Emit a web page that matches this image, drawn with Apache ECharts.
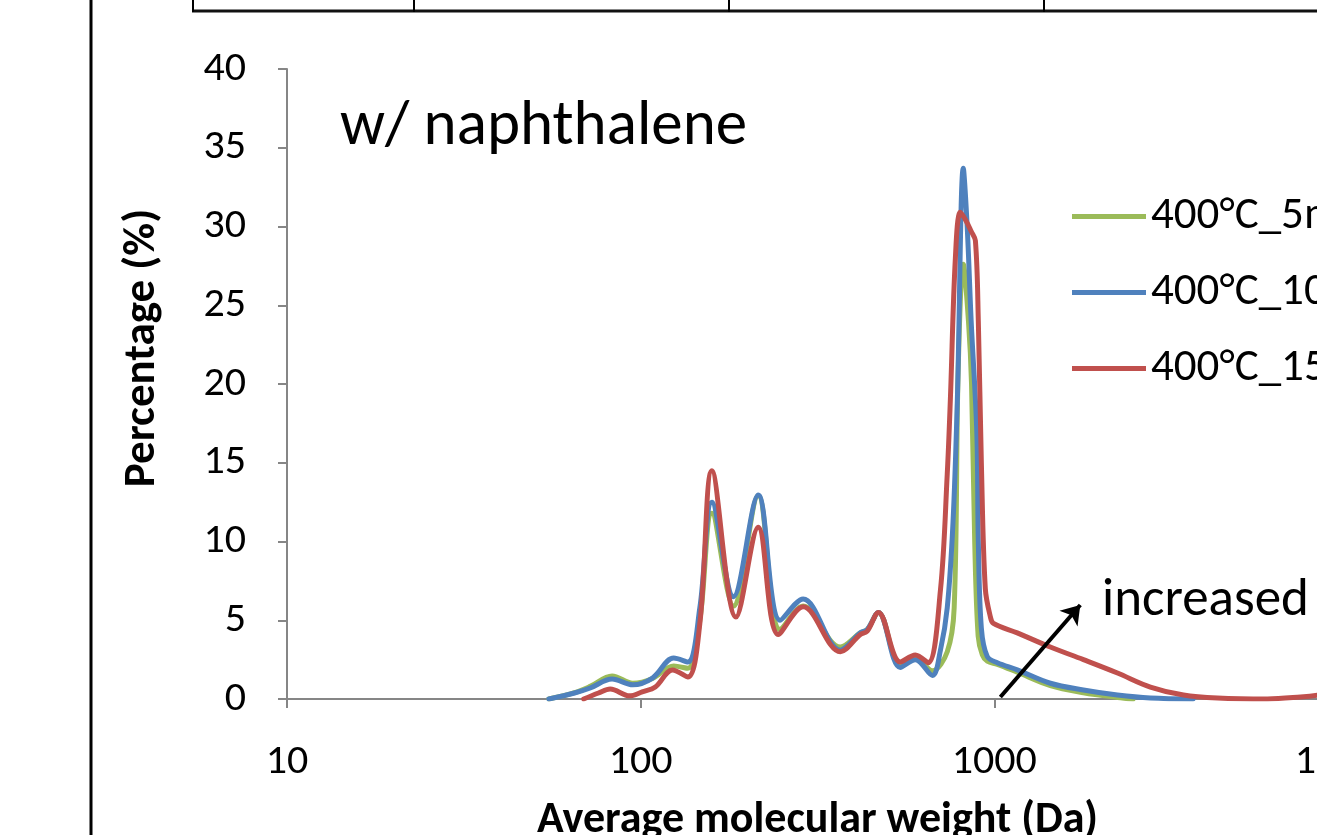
<!DOCTYPE html>
<html>
<head>
<meta charset="utf-8">
<script src="https://cdn.jsdelivr.net/npm/echarts@6/dist/echarts.min.js"></script>
<style>
html,body{margin:0;padding:0;background:#fff;}
#chart{width:1317px;height:835px;}
</style>
</head>
<body>
<div id="chart"></div>
<script>
// ---- data ----
const seriesNames = ['400°C_5min', '400°C_10min', '400°C_15min'];
const xTickLabels = ['10', '100', '1000', '10000'];

const mw5  = [55, 65, 72, 83, 95, 108, 124, 136, 147, 159, 183, 215, 248, 288, 367, 418, 437, 470, 542, 598, 668, 736, 770, 790, 817, 845, 862, 880, 900, 925, 955, 1020, 1161, 1440, 1786, 2229, 2470];
const pct5 = [0, 0.4, 0.8, 1.46, 1.0, 1.3, 2.1, 1.95, 5.0, 11.8, 5.9, 12.9, 4.4, 5.9, 3.3, 4.2, 4.4, 5.5, 2.2, 2.6, 1.8, 3.0, 5.8, 20.7, 27.6, 24, 20, 10, 4, 2.8, 2.4, 2.2, 1.7, 0.85, 0.4, 0.1, 0];

const mw10  = [55, 65, 72, 83, 95, 108, 124, 136, 147, 159, 183, 215, 248, 288, 367, 418, 437, 470, 542, 598, 668, 704, 736, 764, 786, 817, 838, 860, 892, 901, 919, 955, 1020, 1161, 1440, 1786, 2229, 2762, 3650];
const pct10 = [0, 0.38, 0.7, 1.27, 0.9, 1.33, 2.6, 2.35, 5.8, 12.5, 6.5, 12.95, 5.0, 6.35, 3.1, 4.2, 4.4, 5.5, 2.0, 2.5, 1.5, 3.1, 5.8, 11.2, 19, 33.7, 30, 24, 17, 10, 4.5, 2.7, 2.3, 1.85, 1.0, 0.57, 0.25, 0.06, 0];

const mw15  = [69, 76, 82, 93, 101, 110, 123, 136, 147, 159, 186, 215, 245, 288, 367, 418, 437, 470, 542, 598, 650, 704, 736, 751, 776, 801, 830, 860, 884, 901, 919, 943, 975, 994, 1161, 1440, 1786, 2229, 2762, 3426, 4276, 5918, 7341, 8204, 9000];
const pct15 = [0, 0.38, 0.63, 0.2, 0.45, 0.76, 1.84, 1.4, 4.8, 14.5, 5.2, 10.9, 4.1, 5.85, 3.0, 4.1, 4.3, 5.5, 2.35, 2.8, 2.3, 6.9, 14.3, 19, 28, 30.9, 30.4, 29.7, 29.1, 24, 15, 7, 5.2, 4.8, 4.2, 3.3, 2.5, 1.65, 0.76, 0.25, 0.06, 0, 0.13, 0.25, 0.45];

// annotation arrow (data coordinates)
const arrowStart = [1040, 0.13];
const arrowEnd = [1750, 5.97];

const colors = ['#9BBB59', '#4F81BD', '#C0504D'];
const FONT = 'Carlito, Lato, sans-serif';

function pairs(xs, ys) { return xs.map((x, i) => [x, ys[i]]); }

const chart = echarts.init(document.getElementById('chart'), null, {renderer: 'canvas'});

function lineSeries(name, xs, ys, color) {
  return {
    name: name,
    type: 'line',
    data: pairs(xs, ys),
    smooth: 0.35,
    showSymbol: false,
    symbol: 'none',
    lineStyle: {color: color, width: 5, cap: 'round', join: 'round'},
    itemStyle: {color: color},
    z: 3
  };
}

const series = [
  lineSeries(seriesNames[0], mw5, pct5, colors[0]),
  lineSeries(seriesNames[1], mw10, pct10, colors[1]),
  lineSeries(seriesNames[2], mw15, pct15, colors[2])
];
series[2].markLine = {
  silent: true,
  symbol: ['none', 'arrow'],
  symbolSize: [18, 18],
  label: {show: false},
  lineStyle: {color: '#000', width: 4, type: 'solid'},
  data: [[{coord: arrowStart}, {coord: arrowEnd}]]
};

const option = {
  backgroundColor: '#fff',
  animation: false,
  title: [
    {text: 'w/ naphthalene', left: 335, top: 92,
     textStyle: {fontFamily: FONT, fontSize: 63, fontWeight: 'normal', color: '#000'}},
    {text: 'increased', left: 1097, top: 570,
     textStyle: {fontFamily: FONT, fontSize: 53, fontWeight: 'normal', color: '#000'}}
  ],
  legend: {
    orient: 'vertical',
    left: 1067,
    top: 189,
    itemWidth: 74,
    itemHeight: 5,
    itemGap: 31,
    icon: 'rect',
    textStyle: {fontFamily: FONT, fontSize: 45, lineHeight: 45, color: '#000'},
    data: seriesNames
  },
  grid: {left: 287, top: 69, width: 1061, height: 630, containLabel: false, outerBoundsMode: 'none'},
  xAxis: {
    type: 'log',
    logBase: 10,
    min: 10,
    max: 10000,
    name: 'Average molecular weight (Da)',
    nameLocation: 'middle',
    nameGap: 100,
    nameTextStyle: {fontFamily: FONT, fontSize: 44, fontWeight: 'bold', color: '#000'},
    axisLine: {lineStyle: {color: '#868686', width: 2}},
    axisTick: {show: true, inside: false, length: 9, lineStyle: {color: '#868686', width: 2}},
    minorTick: {show: false},
    splitLine: {show: false},
    axisLabel: {
      fontFamily: FONT, fontSize: 42, color: '#000', margin: 42,
      formatter: function (v) {
        const r = Math.round(v);
        const s = String(r);
        return xTickLabels.indexOf(s) >= 0 ? s : '';
      }
    }
  },
  yAxis: {
    type: 'value',
    min: 0,
    max: 40,
    interval: 5,
    name: 'Percentage (%)',
    nameLocation: 'middle',
    nameGap: 122,
    nameTextStyle: {fontFamily: FONT, fontSize: 45, fontWeight: 'bold', color: '#000', padding: [0, 0, 0, 72]},
    axisLine: {show: true, lineStyle: {color: '#868686', width: 2}},
    axisTick: {show: true, inside: false, length: 9, lineStyle: {color: '#868686', width: 2}},
    splitLine: {show: false},
    axisLabel: {fontFamily: FONT, fontSize: 42, color: '#000', margin: 41}
  },
  graphic: [
    // left page border
    {type: 'line', shape: {x1: 91, y1: 0, x2: 91, y2: 835}, style: {stroke: '#000', lineWidth: 3}, silent: true},
    // table bottom edge and cell dividers
    {type: 'line', shape: {x1: 192, y1: 11, x2: 1317, y2: 11}, style: {stroke: '#111', lineWidth: 3}, silent: true},
    {type: 'line', shape: {x1: 193, y1: 0, x2: 193, y2: 12}, style: {stroke: '#000', lineWidth: 2}, silent: true},
    {type: 'line', shape: {x1: 414, y1: 0, x2: 414, y2: 12}, style: {stroke: '#000', lineWidth: 2}, silent: true},
    {type: 'line', shape: {x1: 729, y1: 0, x2: 729, y2: 12}, style: {stroke: '#000', lineWidth: 2}, silent: true},
    {type: 'line', shape: {x1: 1044, y1: 0, x2: 1044, y2: 12}, style: {stroke: '#000', lineWidth: 2}, silent: true}
  ],
  series: series
};

chart.setOption(option);
</script>
</body>
</html>
